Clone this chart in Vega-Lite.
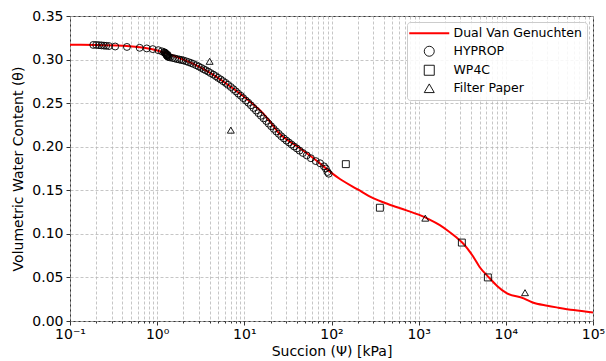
{
  "$schema": "https://vega.github.io/schema/vega-lite/v6.json",
  "width": 523,
  "height": 305,
  "autosize": {"type": "none"},
  "padding": {"left": 70, "top": 16, "right": 13, "bottom": 40},
  "background": "white",
  "config": {
    "font": "DejaVu Sans",
    "view": {"stroke": "#333333", "strokeWidth": 1},
    "axis": {
      "domain": false,
      "labelFont": "DejaVu Sans",
      "labelFontSize": 14,
      "labelColor": "#000000",
      "titleFont": "DejaVu Sans",
      "titleFontSize": 14,
      "titleFontWeight": "normal",
      "titleColor": "#000000",
      "tickColor": "#333333",
      "gridColor": "#b8b8b8",
      "gridDash": [3, 2],
      "gridWidth": 0.8
    },
    "legend": {
      "title": null,
      "orient": "top-right",
      "offset": 6,
      "fillColor": "rgba(255,255,255,0.85)",
      "strokeColor": "#cccccc",
      "cornerRadius": 3,
      "padding": 5,
      "labelFont": "DejaVu Sans",
      "labelFontSize": 12.5,
      "labelColor": "#000000",
      "rowPadding": 4,
      "symbolOffset": 11,
      "labelOffset": 18
    }
  },
  "datasets": {
    "curve": [
      {"psi": 0.1, "theta": 0.317},
      {"psi": 0.2, "theta": 0.3168},
      {"psi": 0.4, "theta": 0.3158},
      {"psi": 0.7, "theta": 0.3135},
      {"psi": 1.0, "theta": 0.3105},
      {"psi": 1.3, "theta": 0.307},
      {"psi": 2.0, "theta": 0.3},
      {"psi": 2.6, "theta": 0.295},
      {"psi": 4.0, "theta": 0.285},
      {"psi": 6.3, "theta": 0.272},
      {"psi": 10, "theta": 0.257},
      {"psi": 12.5, "theta": 0.249},
      {"psi": 16.5, "theta": 0.238},
      {"psi": 20, "theta": 0.228},
      {"psi": 25.6, "theta": 0.2145},
      {"psi": 30, "theta": 0.209},
      {"psi": 41, "theta": 0.2},
      {"psi": 60, "theta": 0.188},
      {"psi": 80, "theta": 0.178},
      {"psi": 100, "theta": 0.17},
      {"psi": 125, "theta": 0.163},
      {"psi": 200, "theta": 0.151},
      {"psi": 300, "theta": 0.141},
      {"psi": 450, "theta": 0.134},
      {"psi": 726, "theta": 0.127},
      {"psi": 1000, "theta": 0.122},
      {"psi": 1300, "theta": 0.117},
      {"psi": 1750, "theta": 0.11},
      {"psi": 2200, "theta": 0.103},
      {"psi": 2700, "theta": 0.096},
      {"psi": 3236, "theta": 0.089},
      {"psi": 4217, "theta": 0.074},
      {"psi": 5000, "theta": 0.062},
      {"psi": 6260, "theta": 0.051},
      {"psi": 8000, "theta": 0.04},
      {"psi": 10000, "theta": 0.0325},
      {"psi": 16000, "theta": 0.026},
      {"psi": 20000, "theta": 0.0215},
      {"psi": 30000, "theta": 0.0175},
      {"psi": 40000, "theta": 0.0153},
      {"psi": 60000, "theta": 0.0125},
      {"psi": 100000, "theta": 0.0098}
    ],
    "pts": [
      {"psi": 0.185, "theta": 0.3168, "series": "HYPROP"},
      {"psi": 0.2, "theta": 0.3168, "series": "HYPROP"},
      {"psi": 0.215, "theta": 0.3165, "series": "HYPROP"},
      {"psi": 0.23, "theta": 0.3163, "series": "HYPROP"},
      {"psi": 0.245, "theta": 0.316, "series": "HYPROP"},
      {"psi": 0.26, "theta": 0.3158, "series": "HYPROP"},
      {"psi": 0.28, "theta": 0.3155, "series": "HYPROP"},
      {"psi": 0.33, "theta": 0.315, "series": "HYPROP"},
      {"psi": 0.45, "theta": 0.3145, "series": "HYPROP"},
      {"psi": 0.63, "theta": 0.3135, "series": "HYPROP"},
      {"psi": 0.76, "theta": 0.3128, "series": "HYPROP"},
      {"psi": 0.89, "theta": 0.312, "series": "HYPROP"},
      {"psi": 1.03, "theta": 0.3108, "series": "HYPROP"},
      {"psi": 1.13, "theta": 0.3095, "series": "HYPROP"},
      {"psi": 1.2, "theta": 0.3085, "series": "HYPROP"},
      {"psi": 1.22, "theta": 0.308, "series": "HYPROP"},
      {"psi": 1.24, "theta": 0.3075, "series": "HYPROP"},
      {"psi": 1.25, "theta": 0.307, "series": "HYPROP"},
      {"psi": 1.26, "theta": 0.3065, "series": "HYPROP"},
      {"psi": 1.27, "theta": 0.306, "series": "HYPROP"},
      {"psi": 1.28, "theta": 0.3055, "series": "HYPROP"},
      {"psi": 1.29, "theta": 0.305, "series": "HYPROP"},
      {"psi": 1.3, "theta": 0.3045, "series": "HYPROP"},
      {"psi": 1.31, "theta": 0.304, "series": "HYPROP"},
      {"psi": 1.32, "theta": 0.3055, "series": "HYPROP"},
      {"psi": 1.33, "theta": 0.3035, "series": "HYPROP"},
      {"psi": 1.35, "theta": 0.303, "series": "HYPROP"},
      {"psi": 1.4, "theta": 0.3025, "series": "HYPROP"},
      {"psi": 1.5, "theta": 0.3018, "series": "HYPROP"},
      {"psi": 1.6, "theta": 0.3012, "series": "HYPROP"},
      {"psi": 1.7, "theta": 0.3005, "series": "HYPROP"},
      {"psi": 1.8, "theta": 0.3, "series": "HYPROP"},
      {"psi": 1.9, "theta": 0.2995, "series": "HYPROP"},
      {"psi": 2.0, "theta": 0.299, "series": "HYPROP"},
      {"psi": 2.15, "theta": 0.298, "series": "HYPROP"},
      {"psi": 2.3, "theta": 0.297, "series": "HYPROP"},
      {"psi": 2.45, "theta": 0.296, "series": "HYPROP"},
      {"psi": 2.6, "theta": 0.295, "series": "HYPROP"},
      {"psi": 2.8, "theta": 0.2935, "series": "HYPROP"},
      {"psi": 3.0, "theta": 0.292, "series": "HYPROP"},
      {"psi": 3.2, "theta": 0.2905, "series": "HYPROP"},
      {"psi": 3.4, "theta": 0.289, "series": "HYPROP"},
      {"psi": 3.6, "theta": 0.2878, "series": "HYPROP"},
      {"psi": 3.85, "theta": 0.2862, "series": "HYPROP"},
      {"psi": 4.1, "theta": 0.2845, "series": "HYPROP"},
      {"psi": 4.4, "theta": 0.2828, "series": "HYPROP"},
      {"psi": 4.7, "theta": 0.281, "series": "HYPROP"},
      {"psi": 5.0, "theta": 0.279, "series": "HYPROP"},
      {"psi": 5.35, "theta": 0.2772, "series": "HYPROP"},
      {"psi": 5.7, "theta": 0.2752, "series": "HYPROP"},
      {"psi": 6.1, "theta": 0.2732, "series": "HYPROP"},
      {"psi": 6.5, "theta": 0.271, "series": "HYPROP"},
      {"psi": 7.0, "theta": 0.2685, "series": "HYPROP"},
      {"psi": 7.5, "theta": 0.266, "series": "HYPROP"},
      {"psi": 8.0, "theta": 0.2635, "series": "HYPROP"},
      {"psi": 8.5, "theta": 0.261, "series": "HYPROP"},
      {"psi": 9.1, "theta": 0.2585, "series": "HYPROP"},
      {"psi": 9.7, "theta": 0.2558, "series": "HYPROP"},
      {"psi": 10.4, "theta": 0.253, "series": "HYPROP"},
      {"psi": 11.1, "theta": 0.2505, "series": "HYPROP"},
      {"psi": 11.9, "theta": 0.2475, "series": "HYPROP"},
      {"psi": 12.7, "theta": 0.2445, "series": "HYPROP"},
      {"psi": 13.6, "theta": 0.2415, "series": "HYPROP"},
      {"psi": 14.5, "theta": 0.2385, "series": "HYPROP"},
      {"psi": 15.5, "theta": 0.2355, "series": "HYPROP"},
      {"psi": 16.6, "theta": 0.2325, "series": "HYPROP"},
      {"psi": 17.8, "theta": 0.2295, "series": "HYPROP"},
      {"psi": 19.0, "theta": 0.2265, "series": "HYPROP"},
      {"psi": 20.3, "theta": 0.2235, "series": "HYPROP"},
      {"psi": 21.7, "theta": 0.2205, "series": "HYPROP"},
      {"psi": 23.2, "theta": 0.2175, "series": "HYPROP"},
      {"psi": 24.8, "theta": 0.2148, "series": "HYPROP"},
      {"psi": 26.5, "theta": 0.212, "series": "HYPROP"},
      {"psi": 28.4, "theta": 0.2095, "series": "HYPROP"},
      {"psi": 30.4, "theta": 0.207, "series": "HYPROP"},
      {"psi": 32.5, "theta": 0.2048, "series": "HYPROP"},
      {"psi": 34.8, "theta": 0.2025, "series": "HYPROP"},
      {"psi": 37.2, "theta": 0.2003, "series": "HYPROP"},
      {"psi": 40, "theta": 0.198, "series": "HYPROP"},
      {"psi": 43, "theta": 0.1955, "series": "HYPROP"},
      {"psi": 47, "theta": 0.1928, "series": "HYPROP"},
      {"psi": 52, "theta": 0.19, "series": "HYPROP"},
      {"psi": 58, "theta": 0.1868, "series": "HYPROP"},
      {"psi": 66, "theta": 0.1835, "series": "HYPROP"},
      {"psi": 74, "theta": 0.181, "series": "HYPROP"},
      {"psi": 82, "theta": 0.1775, "series": "HYPROP"},
      {"psi": 86, "theta": 0.175, "series": "HYPROP"},
      {"psi": 90, "theta": 0.171, "series": "HYPROP"},
      {"psi": 93, "theta": 0.169, "series": "HYPROP"},
      {"psi": 146, "theta": 0.18, "series": "WP4C"},
      {"psi": 359, "theta": 0.13, "series": "WP4C"},
      {"psi": 3130, "theta": 0.09, "series": "WP4C"},
      {"psi": 6220, "theta": 0.05, "series": "WP4C"},
      {"psi": 4, "theta": 0.298, "series": "Filter Paper"},
      {"psi": 7, "theta": 0.219, "series": "Filter Paper"},
      {"psi": 1190, "theta": 0.118, "series": "Filter Paper"},
      {"psi": 16600, "theta": 0.0325, "series": "Filter Paper"}
    ]
  },
  "layer": [
    {
      "data": {"name": "curve"},
      "mark": {"type": "line", "color": "#ff0000", "strokeWidth": 2, "interpolate": "monotone", "clip": true},
      "encoding": {
        "x": {
          "field": "psi", "type": "quantitative",
          "scale": {"type": "log", "domain": [0.1, 100000], "nice": false},
          "axis": {
            "title": "Succion (Ψ) [kPa]",
            "titlePadding": 3,
            "values": [0.1,0.2,0.3,0.4,0.5,0.6,0.7,0.8,0.9,1,2,3,4,5,6,7,8,9,10,20,30,40,50,60,70,80,90,100,200,300,400,500,600,700,800,900,1000,2000,3000,4000,5000,6000,7000,8000,9000,10000,20000,30000,40000,50000,60000,70000,80000,90000,100000],
            "labelExpr": "abs(log(datum.value)/LN10 - round(log(datum.value)/LN10)) < 0.001 ? '10' + ['⁻¹','⁰','¹','²','³','⁴','⁵'][round(log(datum.value)/LN10)+1] : ''",
            "labelOverlap": false,
            "labelFlush": false,
            "labelBound": false,
            "labelPadding": 2,
            "tickSize": {"condition": {"test": "abs(log(datum.value)/LN10 - round(log(datum.value)/LN10)) < 0.001", "value": 4}, "value": 2}
          }
        },
        "y": {
          "field": "theta", "type": "quantitative",
          "scale": {"domain": [0, 0.35], "nice": false},
          "axis": {
            "title": "Volumetric Water Content (θ)",
            "values": [0, 0.05, 0.1, 0.15, 0.2, 0.25, 0.3, 0.35],
            "format": ".2f",
            "tickSize": 4,
            "labelPadding": 3,
            "titlePadding": 6
          }
        }
      }
    },
    {
      "data": {"name": "pts"},
      "mark": {"type": "point", "filled": false, "opacity": 1, "size": 48},
      "encoding": {
        "x": {"field": "psi", "type": "quantitative"},
        "y": {"field": "theta", "type": "quantitative"},
        "shape": {
          "field": "series", "type": "nominal",
          "scale": {"domain": ["Dual Van Genuchten", "HYPROP", "WP4C", "Filter Paper"], "range": ["M-4,0H4", "circle", "square", "triangle-up"]},
          "legend": {"title": null}
        },
        "color": {
          "field": "series", "type": "nominal",
          "scale": {"domain": ["Dual Van Genuchten", "HYPROP", "WP4C", "Filter Paper"], "range": ["#ff0000", "#000000", "#000000", "#000000"]},
          "legend": {"title": null}
        },
        "strokeWidth": {
          "field": "series", "type": "nominal",
          "scale": {"type": "ordinal", "domain": ["Dual Van Genuchten", "HYPROP", "WP4C", "Filter Paper"], "range": [2, 0.9, 0.9, 0.9]},
          "legend": {"title": null}
        }
      }
    }
  ]
}
